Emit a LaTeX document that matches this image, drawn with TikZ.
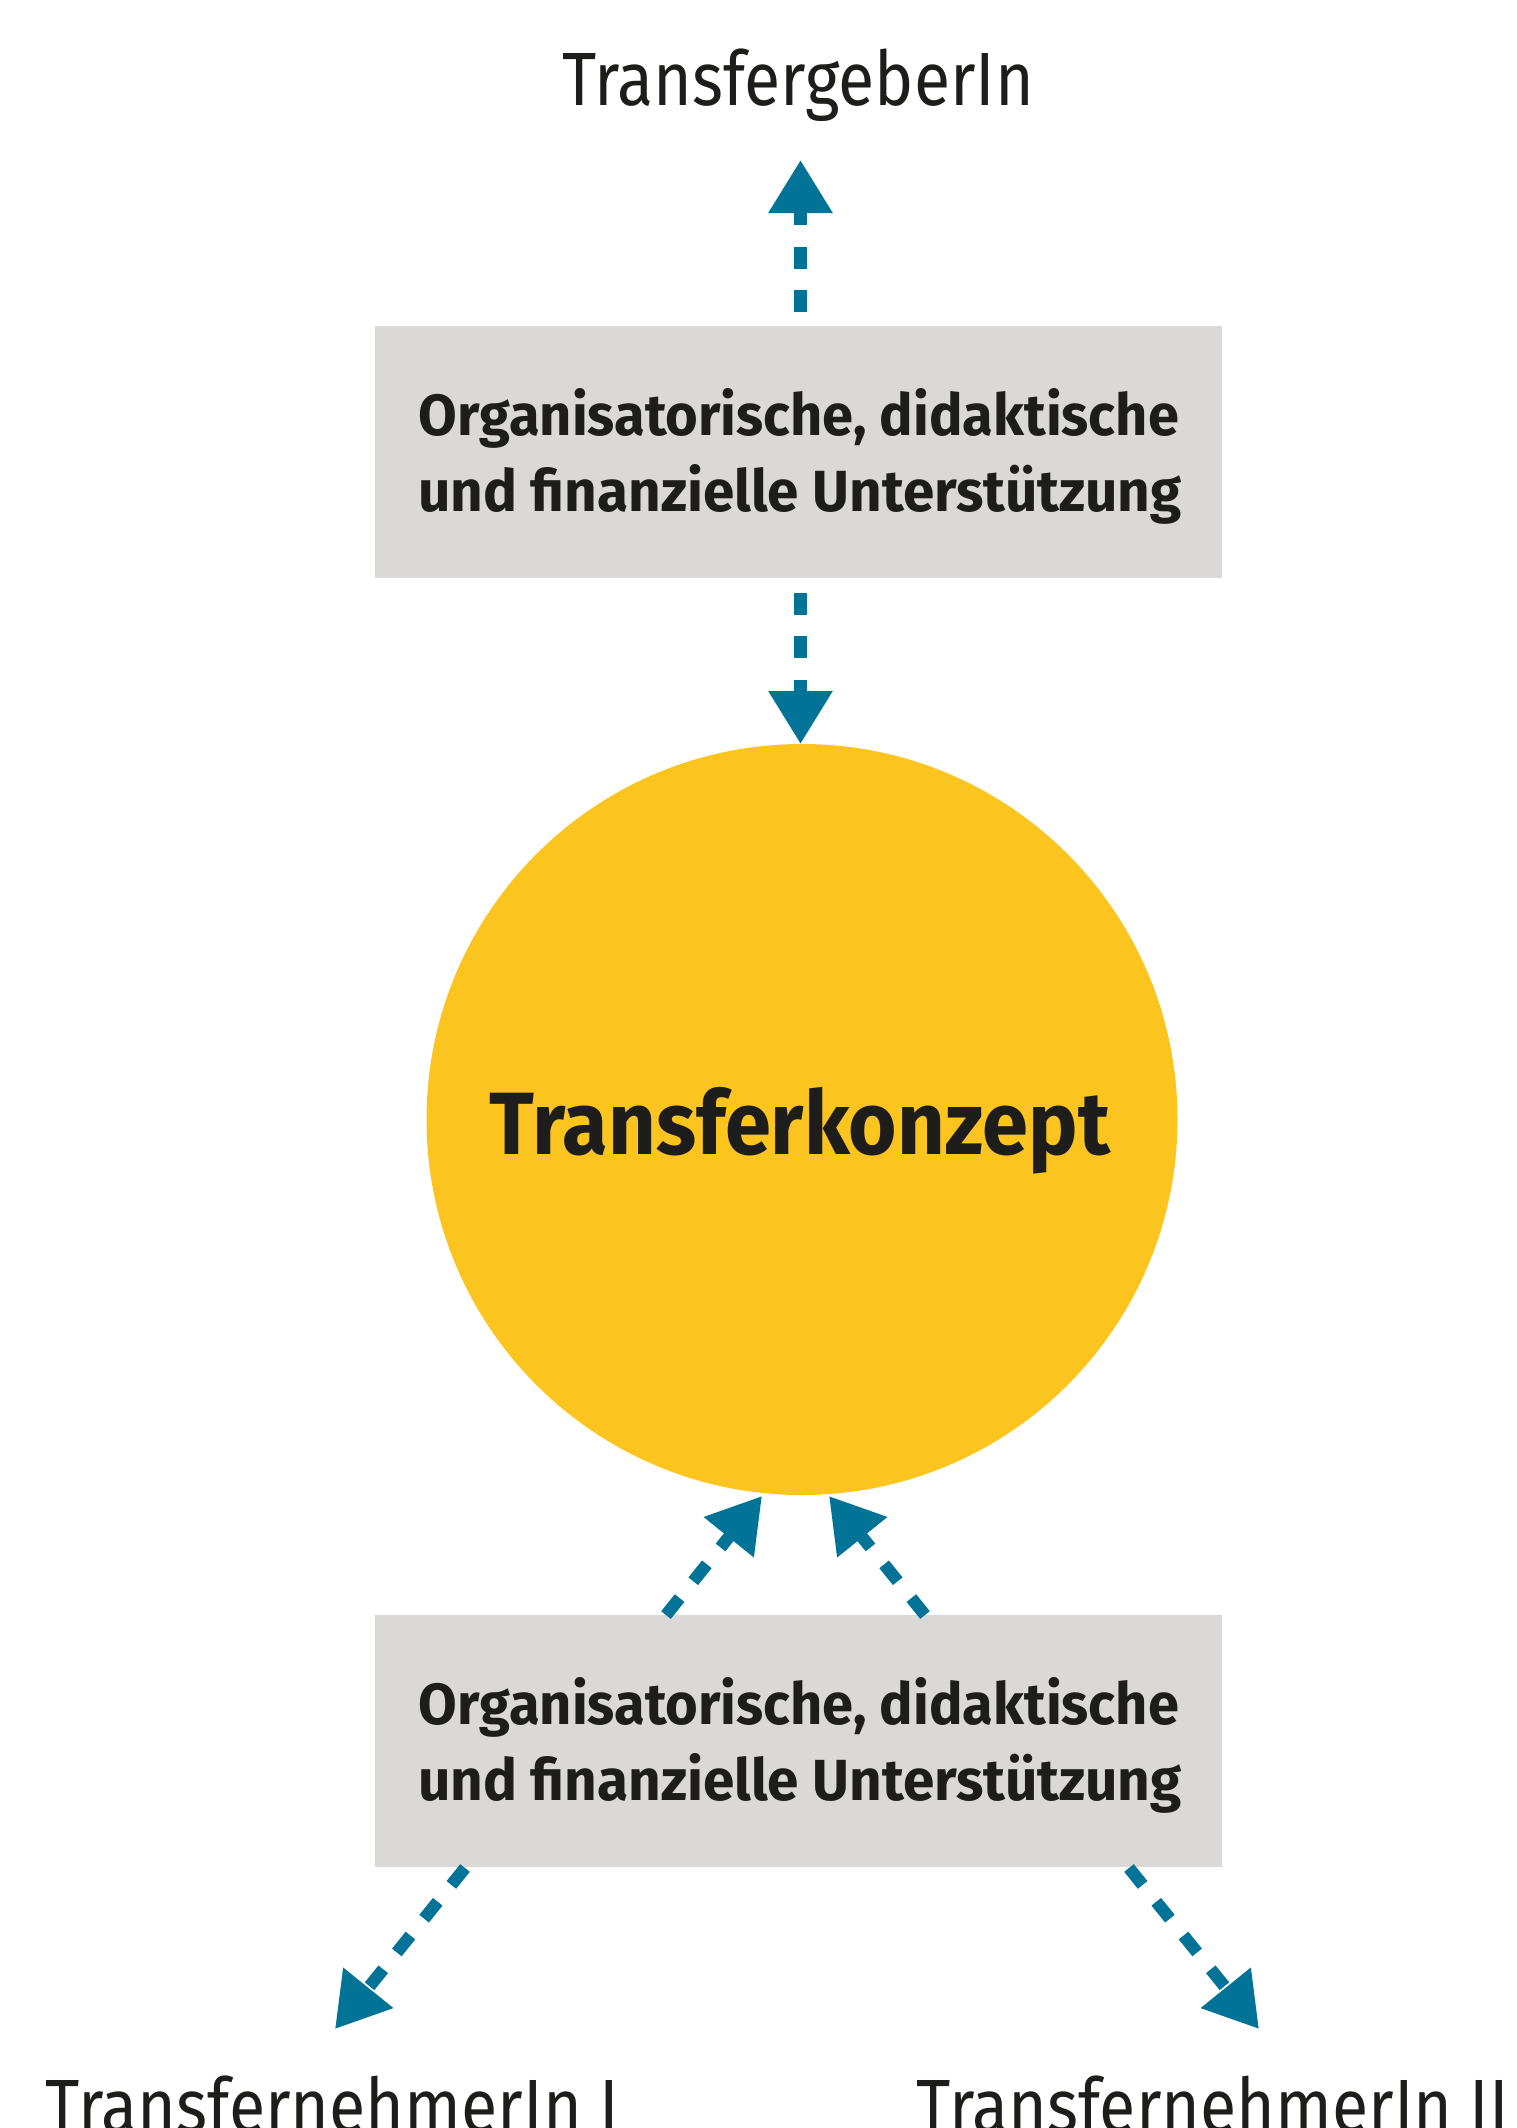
\documentclass[tikz,border=0pt]{standalone}
\usepackage{fontspec}
\setmainfont{Fira Sans}
\usepackage{graphicx}
\usetikzlibrary{arrows.meta}
\definecolor{arrowblue}{RGB}{0,115,150}
\definecolor{boxgray}{RGB}{218,217,215}
\definecolor{sunyellow}{RGB}{251,196,30}
\definecolor{inkblack}{RGB}{29,29,27}
\tikzset{
  flowarrow/.style={draw=arrowblue, line width=12.3pt, dash pattern=on 21.7pt off 21.7pt,
    -{Triangle[width=61pt,length=53pt]}},
  graybox/.style={rectangle, fill=boxgray, minimum width=847pt, minimum height=252pt, inner sep=0pt},
  roletext/.style={inner sep=0pt, anchor=base, text=inkblack, font=\fontsize{75.5}{90}\selectfont},
  boxtext/.style={inner sep=0pt, anchor=base, text=inkblack, font=\bfseries\fontsize{58}{70}\selectfont},
  centertext/.style={inner sep=0pt, anchor=base, text=inkblack, font=\bfseries\fontsize{88.5}{100}\selectfont}
}
\begin{document}
\begin{tikzpicture}[x=1pt,y=-1pt]
\useasboundingbox (0,0) rectangle (1517,2128);
% role labels
\node[roletext] (geber) at (798,105) {\resizebox{472pt}{\height}{TransfergeberIn}};
\node[roletext] (nehmerA) at (332.5,2132) {\resizebox{573pt}{\height}{TransfernehmerIn I}};
\node[roletext] (nehmerB) at (1213,2132) {\resizebox{592pt}{\height}{TransfernehmerIn II}};
% boxes
\node[graybox] (boxA) at (798.5,452) {};
\node[boxtext] (boxAl1) at (799,435) {\resizebox{760pt}{\height}{Organisatorische, didaktische}};
\node[boxtext] (boxAl2) at (800,511) {\resizebox{763pt}{\height}{und finanzielle Unterstützung}};
\node[graybox] (boxB) at (798.5,1741) {};
\node[boxtext] (boxBl1) at (799,1724) {\resizebox{760pt}{\height}{Organisatorische, didaktische}};
\node[boxtext] (boxBl2) at (800,1800) {\resizebox{763pt}{\height}{und finanzielle Unterstützung}};
% circle
\node[circle, fill=sunyellow, minimum size=751pt, inner sep=0pt] (konzept) at (802,1119.5) {};
\node[centertext] (konzepttext) at (800,1154) {\resizebox{620pt}{\height}{Transferkonzept}};
% connector end points
\coordinate (a1s) at (800.5,312);
\coordinate (a1e) at (800.5,160);
\coordinate (a2s) at (800.5,593);
\coordinate (a2e) at (800.5,744);
\coordinate (a3s) at (666,1615);
\coordinate (a3e) at (762,1496);
\coordinate (a4s) at (925,1615);
\coordinate (a4e) at (829,1496);
\coordinate (a5s) at (465,1868);
\coordinate (a5e) at (335,2029);
\coordinate (a6s) at (1129,1868);
\coordinate (a6e) at (1259,2029);
% arrows
\draw[flowarrow] (a1s) -- (a1e);
\draw[flowarrow] (a2s) -- (a2e);
\draw[flowarrow] (a3s) -- (a3e);
\draw[flowarrow] (a4s) -- (a4e);
\draw[flowarrow] (a5s) -- (a5e);
\draw[flowarrow] (a6s) -- (a6e);
\end{tikzpicture}
\end{document}
